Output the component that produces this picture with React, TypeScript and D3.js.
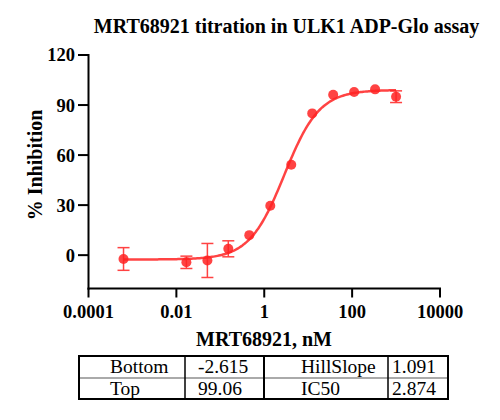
import React from "react";
import * as d3 from "d3";

const concentrations = [0.000627, 0.0169, 0.0508, 0.152, 0.457, 1.372, 4.115, 12.35, 37.04, 111.1, 333.3, 1000];
const inhibition = [-2.3, -4.3, -3.2, 3.8, 12.0, 29.6, 54.2, 85.0, 96.2, 97.8, 99.4, 95.0];
const errors = [6.8, 3.7, 10.2, 4.8, 0, 0, 0, 0, 0, 0, 0, 3.5];
const xTicks = [0.0001, 0.01, 1, 100, 10000];
const xTickLabels = ["0.0001", "0.01", "1", "100", "10000"];
const yTicks = [0, 30, 60, 90, 120];
const fitBottom = -2.615;
const fitTop = 99.06;
const fitHill = 1.091;
const fitIC50 = 2.874;
const tableRows = [
  ["Bottom", "-2.615", "HillSlope", "1.091"],
  ["Top", "99.06", "IC50", "2.874"],
];

const FONT = "'Liberation Serif', 'Times New Roman', serif";
const RED = "#ff2222";

export default function App() {
  const x = d3.scaleLog().domain([1e-4, 1e4]).range([88.5, 440]);
  const y = d3.scaleLinear().domain([-20, 120]).range([288.5, 55]);

  const fit = (c: number) => fitBottom + (fitTop - fitBottom) / (1 + Math.pow(fitIC50 / c, fitHill));
  const lx0 = Math.log10(concentrations[0]);
  const lx1 = Math.log10(concentrations[concentrations.length - 1]);
  const curvePts = d3.range(0, 201).map((i) => {
    const c = Math.pow(10, lx0 + ((lx1 - lx0) * i) / 200);
    return [x(c), y(fit(c))] as [number, number];
  });
  const line = d3.line().curve(d3.curveLinear)(curvePts) || "";

  const colX = [79, 185, 264, 388, 448];
  const rowY = [356, 378, 399];
  const textX = [110, 198, 301, 392];

  return (
    <svg width={500} height={420} style={{ position: "absolute", left: 0, top: 0, background: "#fff" }} fontFamily={FONT}>
      <text x={286.5} y={33} textAnchor="middle" fontSize={20} fontWeight="bold">
        MRT68921 titration in ULK1 ADP-Glo assay
      </text>

      {/* Y axis */}
      <line x1={88.5} x2={88.5} y1={y(120) - 1} y2={y(-20) + 1} stroke="#000" strokeWidth={2} />
      {yTicks.map((t) => (
        <g key={t}>
          <line x1={78} x2={88.5} y1={y(t)} y2={y(t)} stroke="#000" strokeWidth={2} />
          <text x={75} y={y(t)} dy="0.35em" textAnchor="end" fontSize={18.5} fontWeight="bold">
            {t}
          </text>
        </g>
      ))}
      <text transform={`translate(42,165) rotate(-90)`} textAnchor="middle" fontSize={20} fontWeight="bold">
        % Inhibition
      </text>

      {/* X axis */}
      <line x1={87.5} x2={441} y1={y(-20)} y2={y(-20)} stroke="#000" strokeWidth={2} />
      {xTicks.map((t, i) => (
        <g key={t}>
          <line x1={x(t)} x2={x(t)} y1={y(-20)} y2={y(-20) + 9} stroke="#000" strokeWidth={2} />
          <text x={x(t)} y={318} textAnchor="middle" fontSize={18.5} fontWeight="bold">
            {xTickLabels[i]}
          </text>
        </g>
      ))}
      <text x={264} y={346} textAnchor="middle" fontSize={20} fontWeight="bold">
        MRT68921, nM
      </text>

      {/* error bars */}
      {concentrations.map((c, i) =>
        errors[i] > 0 ? (
          <g key={"e" + i} stroke={RED} strokeWidth={1.5} opacity={0.85}>
            <line x1={x(c)} x2={x(c)} y1={y(inhibition[i] + errors[i])} y2={y(inhibition[i] - errors[i])} />
            <line x1={x(c) - 6} x2={x(c) + 6} y1={y(inhibition[i] + errors[i])} y2={y(inhibition[i] + errors[i])} />
            <line x1={x(c) - 6} x2={x(c) + 6} y1={y(inhibition[i] - errors[i])} y2={y(inhibition[i] - errors[i])} />
          </g>
        ) : null
      )}

      {/* fit curve */}
      <path d={line} fill="none" stroke={RED} strokeWidth={2.5} opacity={0.85} />

      {/* points */}
      {concentrations.map((c, i) => (
        <circle key={"p" + i} cx={x(c)} cy={y(inhibition[i])} r={5} fill={RED} opacity={0.85} />
      ))}

      {/* table */}
      <line x1={colX[0]} x2={colX[4]} y1={rowY[1]} y2={rowY[1]} stroke="#aaa" strokeWidth={2} />
      {colX.slice(1, 4).map((cx, i) => (
        <line key={"v" + i} x1={cx} x2={cx} y1={rowY[0]} y2={rowY[2]} stroke="#000" strokeWidth={i === 1 ? 2 : 1.5} />
      ))}
      <rect x={colX[0]} y={rowY[0]} width={colX[4] - colX[0]} height={rowY[2] - rowY[0]} fill="none" stroke="#000" strokeWidth={2} />
      {tableRows.map((row, r) =>
        row.map((cell, c) => (
          <text key={r + "-" + c} x={textX[c]} y={rowY[r] + 17} fontSize={19.5}>
            {cell}
          </text>
        ))
      )}
    </svg>
  );
}
